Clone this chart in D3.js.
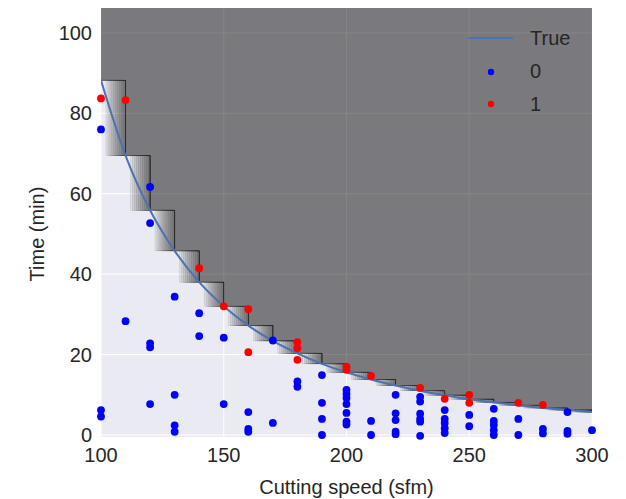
<!DOCTYPE html>
<html>
<head>
<meta charset="utf-8">
<script src="https://cdn.jsdelivr.net/npm/d3@7"></script>
<style>
  body { margin: 0; background: #fff; }
  text { font-family: "Liberation Sans", Arial, sans-serif; fill: #262626; }
</style>
</head>
<body>
<svg width="626" height="499"></svg>
<script>
// values
const speeds = [100, 110, 120, 130, 140, 150, 160, 170, 180, 190, 200, 210, 220, 230, 240, 250, 260, 270, 280, 290, 300];
const trueTime = [88.2, 69.5, 55.9, 45.8, 38.0, 32.0, 27.2, 23.4, 20.3, 17.7, 15.6, 13.8, 12.3, 11.0, 9.9, 8.9, 8.1, 7.4, 6.7, 6.2, 5.7];
const xTicks = [100, 150, 200, 250, 300];
const yTicks = [0, 20, 40, 60, 80, 100];

// label 0 (blue)
const class0 = [
  [100, 76], [100, 6.2], [100, 4.6],
  [110, 28.3],
  [120, 61.7], [120, 52.7], [120, 22.8], [120, 21.8], [120, 7.7],
  [130, 34.4], [130, 10], [130, 2.4], [130, 0.8],
  [140, 30.3], [140, 24.6],
  [150, 24.2], [150, 7.7],
  [160, 5.7], [160, 1.5], [160, 0.8],
  [170, 23.5], [170, 3],
  [180, 13.3], [180, 12],
  [190, 14.9], [190, 8], [190, 4], [190, 0],
  [200, 11.2], [200, 10.2], [200, 9.2], [200, 7.7], [200, 5.5], [200, 3.3], [200, 2.6],
  [210, 3.5], [210, 0],
  [220, 10], [220, 5.4], [220, 3.7], [220, 0.8], [220, 0.2],
  [230, 9.5], [230, 8.3], [230, 5.3], [230, 4], [230, 3.3], [230, -0.2],
  [240, 6.2], [240, 4], [240, 3], [240, 1.7], [240, 0.5],
  [250, 5], [250, 2.2],
  [260, 6.5], [260, 3.5], [260, 2.5], [260, 1.2], [260, 0],
  [270, 4], [270, 0],
  [280, 1.5], [280, 0.4],
  [290, 5.7], [290, 1], [290, 0.3],
  [300, 1.2]
];
// label 1 (red)
const class1 = [
  [100, 83.7], [110, 83.3], [140, 41.5], [150, 32], [160, 31.3], [160, 20.6],
  [180, 23.1], [180, 21.6], [180, 18.7], [200, 17], [200, 16.2], [210, 14.7],
  [230, 11.7], [240, 9], [250, 10], [250, 8], [270, 8], [280, 7.5]
];

const svg = d3.select("svg");
const margin = { top: 8, right: 34, bottom: 62, left: 101 };
const width = 626 - margin.left - margin.right;
const height = 499 - margin.top - margin.bottom;
const fs = "20px";

const chart = svg.append("g").attr("transform", `translate(${margin.left},${margin.top})`);

const x = d3.scaleLinear().domain([100, 300]).range([0, width]);
const y = d3.scaleLinear().domain([-0.5, 106.2]).range([height, 0]);

chart.append("clipPath").attr("id", "clip")
  .append("rect").attr("width", width).attr("height", height);

// background + grid
chart.append("rect").attr("width", width).attr("height", height).attr("fill", "#EAEAF2");
chart.append("g").selectAll("line").data(xTicks).join("line")
  .attr("x1", d => x(d)).attr("x2", d => x(d)).attr("y1", 0).attr("y2", height)
  .attr("stroke", "#fff").attr("stroke-width", 1);
chart.append("g").selectAll("line").data(yTicks).join("line")
  .attr("y1", d => y(d)).attr("y2", d => y(d)).attr("x1", 0).attr("x2", width)
  .attr("stroke", "#fff").attr("stroke-width", 1);

const pts = speeds.map((s, i) => ({ s: s, t: trueTime[i] }));
const plot = chart.append("g").attr("clip-path", "url(#clip)");

// dark region above the step boundary
plot.append("path")
  .datum(pts)
  .attr("fill", "#000")
  .attr("fill-opacity", 0.48)
  .attr("d", d3.area().curve(d3.curveStepAfter)
    .x(d => x(d.s)).y0(0).y1(d => y(d.t)));

// fading stripes inside each step
const nStripes = 10;
const bins = pts.slice(0, -1).map((d, i) => ({ x0: d.s, x1: pts[i + 1].s, top: d.t, bot: pts[i + 1].t }));
bins.forEach(b => {
  const w = x(b.x1) - x(b.x0);
  for (let k = 0; k < nStripes; k++) {
    const sx = x(b.x0) + w * (0.2 + 0.8 * k / nStripes);
    plot.append("rect")
      .attr("x", sx)
      .attr("y", y(b.top))
      .attr("width", x(b.x1) - sx)
      .attr("height", y(b.bot) - y(b.top))
      .attr("fill", "#000")
      .attr("fill-opacity", 0.062)
      .attr("stroke", "#000")
      .attr("stroke-opacity", 0.14)
      .attr("stroke-width", 0.5);
  }
});

// step outline
plot.append("path")
  .datum(pts)
  .attr("fill", "none")
  .attr("stroke", "#222")
  .attr("stroke-opacity", 0.75)
  .attr("stroke-width", 0.9)
  .attr("d", d3.line().curve(d3.curveStepAfter).x(d => x(d.s)).y(d => y(d.t)));

// true curve
plot.append("path")
  .datum(pts)
  .attr("fill", "none")
  .attr("stroke", "#4C72B0")
  .attr("stroke-width", 2)
  .attr("d", d3.line().curve(d3.curveMonotoneX).x(d => x(d.s)).y(d => y(d.t)));

// points
chart.append("g").selectAll("circle").data(class0).join("circle")
  .attr("cx", d => x(d[0])).attr("cy", d => y(d[1])).attr("r", 3.9).attr("fill", "#0000ff");
chart.append("g").selectAll("circle").data(class1).join("circle")
  .attr("cx", d => x(d[0])).attr("cy", d => y(d[1])).attr("r", 3.9).attr("fill", "#ff0000");

// tick labels
chart.append("g").selectAll("text").data(xTicks).join("text")
  .attr("x", d => x(d)).attr("y", height + 25)
  .attr("text-anchor", "middle").attr("font-size", fs)
  .text(d => d);
chart.append("g").selectAll("text").data(yTicks).join("text")
  .attr("x", -9).attr("y", d => y(d)).attr("dy", "0.35em")
  .attr("text-anchor", "end").attr("font-size", fs)
  .text(d => d);

// axis labels
chart.append("text")
  .attr("x", width / 2).attr("y", height + 57)
  .attr("text-anchor", "middle").attr("font-size", fs)
  .text("Cutting speed (sfm)");
chart.append("text")
  .attr("transform", "rotate(-90)")
  .attr("x", -226).attr("y", -57)
  .attr("text-anchor", "middle").attr("font-size", fs)
  .text("Time (min)");

// legend
const legend = chart.append("g").attr("transform", `translate(${width - 124}, 30)`);
legend.append("line").attr("x1", 0).attr("x2", 45).attr("y1", 0).attr("y2", 0)
  .attr("stroke", "#4C72B0").attr("stroke-width", 2);
legend.append("circle").attr("cx", 23).attr("cy", 34).attr("r", 3.2).attr("fill", "#0000ff");
legend.append("circle").attr("cx", 23).attr("cy", 66).attr("r", 3.2).attr("fill", "#ff0000");
legend.selectAll("text.lab").data(["True", "0", "1"]).join("text")
  .attr("class", "lab")
  .attr("x", 62).attr("y", (d, i) => i * 33).attr("dy", "0.35em")
  .attr("font-size", fs)
  .text(d => d);
</script>
</body>
</html>
